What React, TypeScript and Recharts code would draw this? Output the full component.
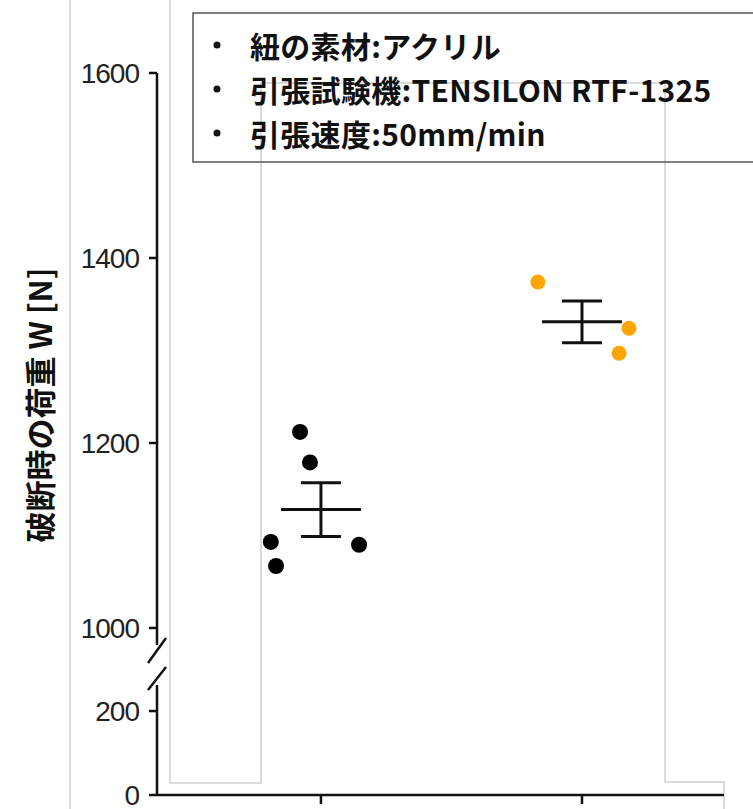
import React from 'react';
import { ScatterChart, Scatter, XAxis, YAxis, ErrorBar } from 'recharts';

// group positions on the x axis (1 = left group, 2 = right group)
const groupTicks = [1, 2];

// individual measurements (x carries the jitter)
const blackX = [0.92, 0.958, 0.808, 0.828, 1.146];
const blackY = [1212, 1179, 1093, 1067, 1090];
const orangeX = [1.831, 2.18, 2.142];
const orangeY = [1374, 1324, 1297];

// mean and standard error
const meanX = [1, 2];
const meanY = [1128, 1331];
const meanSE = [29, 22.5];

const topTicks = [1000, 1200, 1400, 1600];
const bottomTicks = [0, 200];

const legendLines = ['紐の素材:アクリル', '引張試験機:TENSILON RTF-1325', '引張速度:50mm/min'];
const yLabel = '破断時の荷重 W [N]';

const blackData = blackX.map((x, i) => ({ x, y: blackY[i] }));
const orangeData = orangeX.map((x, i) => ({ x, y: orangeY[i] }));
const meanData = meanX.map((x, i) => ({ x, y: meanY[i], se: meanSE[i] }));

const xDomain = [0.372, 2.544];
const axisStroke = { stroke: '#111', strokeWidth: 2.5 };
const tickStyle = { fontSize: 28, fill: '#222', fontFamily: 'Liberation Sans, Arial, sans-serif', letterSpacing: -1 };

const MeanShape = (props: any) => {
  const { cx, cy } = props;
  if (cx == null || cy == null) return null;
  return <line x1={cx - 40} x2={cx + 40} y1={cy} y2={cy} stroke="#111" strokeWidth={3} />;
};

const Dot = (color: string, r: number) => (props: any) => {
  const { cx, cy } = props;
  if (cx == null || cy == null) return null;
  return <circle cx={cx} cy={cy} r={r} fill={color} />;
};

const App: React.FC = () => {
  return (
    <div style={{ position: 'absolute', left: 0, top: 0, width: 753, height: 809, background: '#fff', overflow: 'hidden' }}>
      {/* faint frame lines behind the chart */}
      <svg width={753} height={809} style={{ position: 'absolute', left: 0, top: 0 }}>
        <g fill="none" stroke="#d0d0d0" strokeWidth={1.5}>
          <line x1={70} y1={0} x2={70} y2={809} />
          <polyline points="170,0 170,783 261,783 261,83 665,83 665,782 724,782 724,809" />
        </g>
      </svg>

      <div style={{ position: 'absolute', left: 0, top: 0 }}>
        <ScatterChart width={753} height={650} margin={{ top: 73, right: 29, bottom: 5, left: 0 }}>
          <XAxis type="number" dataKey="x" domain={xDomain} allowDataOverflow hide />
          <YAxis
            type="number"
            dataKey="y"
            domain={[981.6, 1600]}
            ticks={topTicks}
            interval={0}
            allowDataOverflow
            width={157}
            axisLine={axisStroke}
            tickLine={axisStroke}
            tickSize={8}
            tickMargin={10}
            tick={tickStyle}
          />
          <Scatter data={blackData} shape={Dot('#000', 8)} isAnimationActive={false} />
          <Scatter data={orangeData} shape={Dot('#FFA500', 7.5)} isAnimationActive={false} />
          <Scatter data={meanData} shape={MeanShape} isAnimationActive={false}>
            <ErrorBar dataKey="se" direction="y" width={20} stroke="#111" strokeWidth={3} isAnimationActive={false} />
          </Scatter>
        </ScatterChart>
      </div>

      <div style={{ position: 'absolute', left: 0, top: 660 }}>
        <ScatterChart width={753} height={149} margin={{ top: 25, right: 29, bottom: 0, left: 0 }}>
          <XAxis
            type="number"
            dataKey="x"
            domain={xDomain}
            ticks={groupTicks}
            interval={0}
            allowDataOverflow
            height={14}
            axisLine={axisStroke}
            tickLine={axisStroke}
            tickSize={9}
            tickFormatter={() => ''}
          />
          <YAxis
            type="number"
            dataKey="y"
            domain={[0, 262]}
            ticks={bottomTicks}
            interval={0}
            allowDataOverflow
            width={157}
            axisLine={axisStroke}
            tickLine={axisStroke}
            tickSize={8}
            tickMargin={10}
            tick={tickStyle}
          />
          <Scatter data={[] as any[]} isAnimationActive={false} />
        </ScatterChart>
      </div>

      {/* axis break, y label and the note box */}
      <svg width={753} height={809} style={{ position: 'absolute', left: 0, top: 0 }}>
        <line x1={148} y1={663} x2={166} y2={638} stroke="#111" strokeWidth={2.5} />
        <line x1={148} y1={690} x2={166} y2={667} stroke="#111" strokeWidth={2.5} />
        <text
          x={38}
          y={405}
          transform="rotate(-90 38 405)"
          textAnchor="middle"
          dominantBaseline="central"
          fontSize={31}
          fontWeight="bold"
          fontFamily="'Noto Sans CJK JP', sans-serif"
          fill="#111"
        >
          {yLabel}
        </text>
        <rect x={193} y={13} width={580} height={149} fill="none" stroke="#555" strokeWidth={1.5} />
        {legendLines.map((t, i) => (
          <g key={t}>
            <circle cx={217} cy={45 + i * 44} r={3.5} fill="#111" />
            <text
              x={250}
              y={45 + i * 44}
              dominantBaseline="central"
              fontSize={30}
              fontWeight="bold"
              letterSpacing={0.3}
              fontFamily="'Noto Sans CJK JP', sans-serif"
              fill="#111"
            >
              {t}
            </text>
          </g>
        ))}
      </svg>
    </div>
  );
};

export default App;
